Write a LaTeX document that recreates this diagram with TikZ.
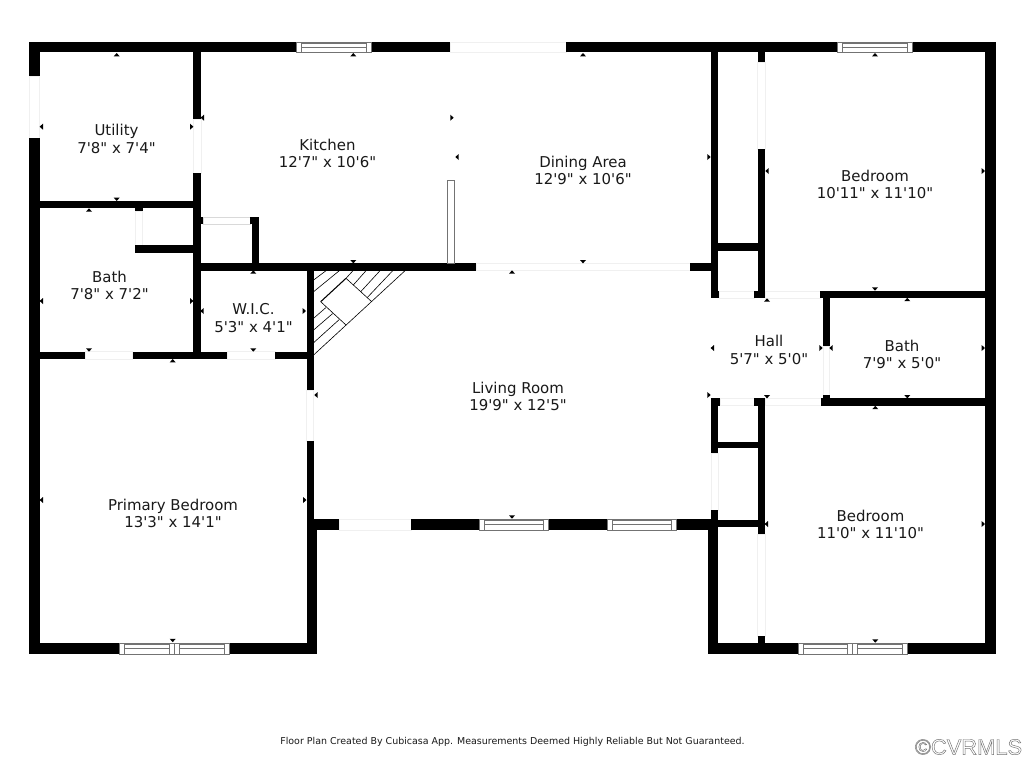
\documentclass[tikz,border=0pt]{standalone}
\usepackage{fontspec}
\newfontfamily\lblfont{DejaVu Sans}
\newfontfamily\wmfont{Liberation Sans}
\newcommand{\wl}[4]{\fill[black] (#1,#2) rectangle (#3,#4);}
\newcommand{\opn}[4]{\draw[openline] (#1,#2) rectangle (#3,#4);}
\newcommand{\winh}[4]{%
  \filldraw[winline,fill=white] (#1,#2) rectangle (#3,#4);
  \draw[winline] (#1+5,#2) -- (#1+5,#4) (#3-5,#2) -- (#3-5,#4)
    (#1+5,#2+1.5) -- (#3-5,#2+1.5) (#1+5,#2+5.3) -- (#3-5,#2+5.3);}
\newcommand{\mU}[2]{\fill[shift={(#1,#2)}] (-3,1.7) -- (3,1.7) -- (0,-1.7) -- cycle;}
\newcommand{\mD}[2]{\fill[shift={(#1,#2)}] (-3,-1.7) -- (3,-1.7) -- (0,1.7) -- cycle;}
\newcommand{\mL}[2]{\fill[shift={(#1,#2)}] (1.7,-3) -- (1.7,3) -- (-1.7,0) -- cycle;}
\newcommand{\mR}[2]{\fill[shift={(#1,#2)}] (-1.7,-3) -- (-1.7,3) -- (1.7,0) -- cycle;}
\tikzset{
  openline/.style={draw=black!6,line width=.35pt},
  winline/.style={draw=black!55,line width=.5pt},
  stairline/.style={draw=black,line width=.45pt},
  roomlabel/.style={font=\lblfont\fontsize{11.2pt}{12.9pt}\selectfont,align=center,inner sep=0pt,text=black!90},
}
\begin{document}
\begin{tikzpicture}[x=.75pt,y=-.75pt]
\useasboundingbox (0,0) rectangle (1024,768);
\fill[white] (0,0) rectangle (1024,768);
% openings
\opn{450}{42}{566}{52}
\opn{29}{76}{39.7}{138}
\opn{193.4}{119}{200.8}{173}
\opn{135.3}{211}{142.5}{245}
\draw[draw=black!15,line width=.4pt] (203,217) rectangle (250,224);
\opn{85}{351.7}{132.7}{359.3}
\opn{227.3}{351.7}{275}{359.3}
\opn{306.6}{390}{313.6}{441}
\opn{339}{519.3}{411}{530}
\opn{476}{263.3}{690}{270.7}
\opn{757.6}{62}{765}{149}
\opn{719}{291}{754}{298}
\opn{765}{291}{820}{298}
\opn{822.8}{346}{829.5}{395}
\opn{720}{398.4}{754}{405.7}
\opn{765}{398.4}{821}{405.7}
\opn{711}{453}{718.2}{510}
\opn{757.6}{534}{765}{636}
% outer walls
\wl{29}{42}{296}{52}
\wl{371}{42}{450}{52}
\wl{566}{42}{837}{52}
\wl{912}{42}{996}{52}
\wl{29}{42}{39.7}{76}
\wl{29}{138}{39.7}{654}
\wl{985.3}{42}{996}{654}
\wl{29}{643}{120}{654}
\wl{229}{643}{317}{654}
\wl{708.3}{643}{798}{654}
\wl{907}{643}{996}{654}
\wl{306.6}{530}{317}{654}
\wl{708.3}{530}{718.2}{654}
\wl{306.6}{519.3}{339}{530}
\wl{411}{519.3}{479.5}{530}
\wl{548}{519.3}{607.5}{530}
\wl{676}{519.3}{718.2}{530}
% left interior
\wl{193.4}{52}{200.8}{119}
\wl{193.4}{173}{200.8}{359.3}
\wl{39.7}{200.8}{193.4}{208}
\wl{135.3}{208}{142.5}{211}
\wl{135.3}{245}{193.4}{253}
\wl{200.8}{217}{203}{224}
\wl{250}{217}{259}{224}
\wl{251.7}{224}{259}{263.3}
\wl{193.4}{263.3}{476}{270.7}
\wl{690}{263.3}{718.2}{270.7}
\wl{39.7}{351.7}{85}{359.3}
\wl{132.7}{351.7}{227.3}{359.3}
\wl{275}{351.7}{306.6}{359.3}
\wl{306.6}{270.7}{313.6}{390}
\wl{306.6}{441}{313.6}{519.3}
% right interior
\wl{711}{52}{718.2}{298}
\wl{711}{291}{719}{298}
\wl{757.6}{52}{765}{62}
\wl{757.6}{149}{765}{298}
\wl{754}{291}{765}{298}
\wl{718.2}{243.3}{757.6}{250.7}
\wl{820}{291}{985.3}{298.3}
\wl{822.8}{298}{829.5}{346}
\wl{822.8}{395}{829.5}{399}
\wl{821}{398.4}{985.3}{405.7}
\wl{711}{398.4}{720}{405.7}
\wl{711}{405}{718.2}{453}
\wl{754}{398.4}{765}{405.7}
\wl{757.6}{405}{765}{534}
\wl{757.6}{636}{765}{643}
\wl{718.2}{441.7}{757.6}{448.3}
\wl{711}{510}{718.2}{530}
\wl{718.2}{519.6}{757.6}{526.5}
% windows
\winh{296}{42}{371}{52}
\winh{837}{42}{912}{52}
\winh{479.5}{519.3}{548}{530}
\winh{607.5}{519.3}{676}{530}
\winh{119.5}{643}{174.3}{654}
\winh{174.3}{643}{229.2}{654}
\winh{798}{643}{852.5}{654}
\winh{852.5}{643}{907}{654}
% kitchen divider
\filldraw[winline,fill=white] (447.5,180.7) rectangle (454.5,263.3);
% stairs
\draw[stairline] (313.6,355) -- (405,270.7);
\draw[stairline] (313.6,280) -- (326,270.7);
\draw[stairline] (313.6,291.7) -- (339.3,270.7);
\draw[line width=.8pt] (320.7,301.7) -- (346,278.3);
\draw[stairline] (346,278.3) -- (353,270.7);
\draw[stairline] (346,278.3) -- (371.7,301.7) (320.7,301.7) -- (346,325);
\draw[stairline] (353.3,285) -- (366,270.7);
\draw[stairline] (360.7,291.7) -- (380,270.7);
\draw[stairline] (367.3,297.5) -- (392.7,270.7);
\draw[stairline] (313.6,318.3) -- (326,307.5);
\draw[stairline] (313.6,330) -- (332.7,313.5);
\draw[stairline] (313.6,342.7) -- (339.3,319.5);
% markers
\mU{116.7}{54.7} \mL{41.3}{126.7} \mR{191.7}{126.7} \mD{116.7}{199.3}
\mU{89}{210} \mL{41.3}{301} \mR{191.7}{301} \mD{89}{350}
\mU{353.3}{54.7} \mL{202.3}{117.7} \mR{452}{117.7} \mD{353.3}{261.7}
\mU{253.3}{272} \mL{202}{311} \mR{304.3}{311} \mD{253.3}{350}
\mU{172.7}{360.7} \mL{41.3}{500} \mR{304.8}{500} \mD{172.7}{640.5}
\mU{512}{272} \mL{316}{395} \mR{709}{395} \mD{512}{517}
\mU{583}{54.7} \mL{457}{157} \mR{709}{157} \mD{583}{261.7}
\mU{875}{54.7} \mL{767}{171} \mR{983.3}{171} \mD{875}{289}
\mU{767}{300} \mL{712.3}{348} \mR{821}{348} \mD{767}{396.7}
\mU{907.3}{299.5} \mL{831}{348} \mR{983.3}{348} \mD{907.3}{396.7}
\mU{875.3}{407.5} \mL{766.3}{524} \mR{983.3}{524} \mD{875.3}{641}
% labels
\node[roomlabel] (utility) at (116.5,139) {Utility\\7'8" x 7'4"};
\node[roomlabel] (kitchen) at (327.5,153.5) {Kitchen\\12'7" x 10'6"};
\node[roomlabel] (dining) at (583,170.5) {Dining Area\\12'9" x 10'6"};
\node[roomlabel] (bed1) at (875,184.5) {Bedroom\\10'11" x 11'10"};
\node[roomlabel] (bath1) at (109.5,285.5) {Bath\\7'8" x 7'2"};
\node[roomlabel] (wic) at (253.5,318) {W.I.C.\\5'3" x 4'1"};
\node[roomlabel] (primary) at (173,513.5) {Primary Bedroom\\13'3" x 14'1"};
\node[roomlabel] (living) at (518,396.5) {Living Room\\19'9" x 12'5"};
\node[roomlabel] (hall) at (769,350) {Hall\\5'7" x 5'0"};
\node[roomlabel] (bath2) at (902,354.5) {Bath\\7'9" x 5'0"};
\node[roomlabel] (bed2) at (870.5,524.5) {Bedroom\\11'0" x 11'10"};
\node[font=\lblfont\fontsize{7.1pt}{8pt}\selectfont,inner sep=0pt,text=black!90] (foot) at (512.5,742) {Floor Plan Created By Cubicasa App. Measurements Deemed Highly Reliable But Not Guaranteed.};
\node[font=\wmfont\fontsize{16.4pt}{17pt}\selectfont,inner sep=0pt,text=black!50] (mark) at (968.5,747) {\special{pdf:code q 1 Tr 0.35 w 0.45 G}©CVRMLS\special{pdf:code Q}};
\end{tikzpicture}
\end{document}
